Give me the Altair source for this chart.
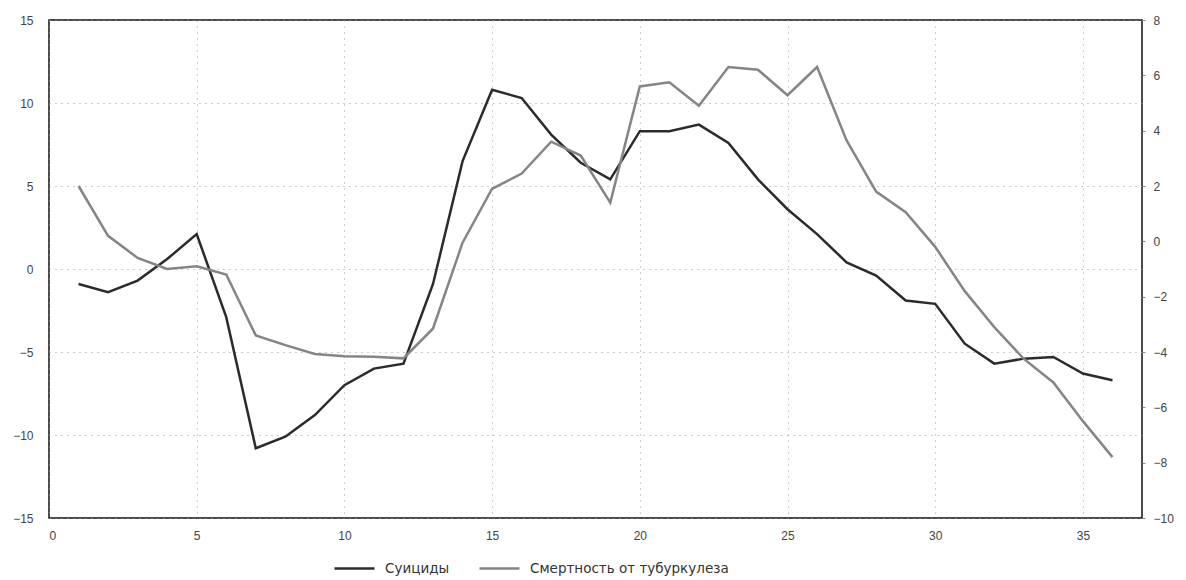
import altair as alt
import pandas as pd

x_vals = list(range(1, 37))
suicides = [-0.9, -1.4, -0.7, 0.6, 2.1, -2.9, -10.8, -10.1, -8.8, -7.0,
            -6.0, -5.7, -0.9, 6.5, 10.8, 10.3, 8.1, 6.4, 5.4, 8.3,
            8.3, 8.7, 7.6, 5.4, 3.6, 2.1, 0.4, -0.4, -1.9, -2.1,
            -4.5, -5.7, -5.4, -5.3, -6.3, -6.7]
tb = [2.0, 0.2, -0.6, -1.0, -0.9, -1.2, -3.4, -3.75, -4.07, -4.15,
      -4.17, -4.23, -3.15, -0.05, 1.9, 2.45, 3.6, 3.1, 1.4, 5.6,
      5.75, 4.9, 6.3, 6.2, 5.28, 6.3, 3.65, 1.8, 1.05, -0.2,
      -1.8, -3.1, -4.25, -5.1, -6.5, -7.8]

series_names = ["Суициды", "Смертность от тубуркулеза"]
series_colors = ["#2b2b2b", "#858585"]
left_ticks = [-15, -10, -5, 0, 5, 10, 15]
right_ticks = [-10, -8, -6, -4, -2, 0, 2, 4, 6, 8]
x_ticks = [0, 5, 10, 15, 20, 25, 30, 35]

df1 = pd.DataFrame({"x": x_vals, "y": suicides, "series": series_names[0]})
df2 = pd.DataFrame({"x": x_vals, "y2": tb, "series": series_names[1]})

font = "Liberation Sans"
xenc = alt.X("x:Q", scale=alt.Scale(domain=[0, 37], nice=False, zero=False),
             axis=alt.Axis(values=x_ticks, title=None, grid=True, ticks=False,
                           domain=False, labelPadding=12, labelFontSize=12,
                           labelColor="#444", labelFont=font,
                           gridDash=[1, 5], gridColor="#9a9a9a", gridWidth=1))

color = alt.Color("series:N",
                  scale=alt.Scale(domain=series_names, range=series_colors),
                  legend=alt.Legend(title=None, orient="none", direction="horizontal",
                                    legendX=284, legendY=527,
                                    symbolType="stroke", symbolSize=1600,
                                    symbolStrokeWidth=2.5, labelFontSize=13.5,
                                    labelFont="DejaVu Sans", labelColor="#333",
                                    labelLimit=0, columnPadding=24, labelOffset=9))

line1 = alt.Chart(df1).mark_line(strokeWidth=2.5).encode(
    x=xenc,
    y=alt.Y("y:Q", scale=alt.Scale(domain=[-15, 15], nice=False),
            axis=alt.Axis(values=left_ticks, title=None, grid=True, ticks=False,
                          domain=False, labelPadding=16, labelFontSize=12,
                          labelColor="#444", labelFont=font,
                          gridDash=[1, 5], gridColor="#9a9a9a", gridWidth=1)),
    color=color,
)

line2 = alt.Chart(df2).mark_line(strokeWidth=2.5).encode(
    x=xenc,
    y=alt.Y("y2:Q", scale=alt.Scale(domain=[-10, 8], nice=False),
            axis=alt.Axis(values=right_ticks, title=None, grid=False, orient="right",
                          ticks=True, tickSize=3, domain=False, labelPadding=8,
                          labelFontSize=12, labelColor="#444", labelFont=font)),
    color=color,
)

chart = alt.layer(line1, line2).resolve_scale(y="independent").properties(
    width=1093, height=498,
    autosize=alt.AutoSizeParams(type="none"),
    padding={"left": 41, "top": 12, "right": 36, "bottom": 64},
    background="white",
).configure_view(stroke="#111", strokeWidth=1.5)

chart.save("out.html", embed_options={"renderer": "svg", "actions": False})
